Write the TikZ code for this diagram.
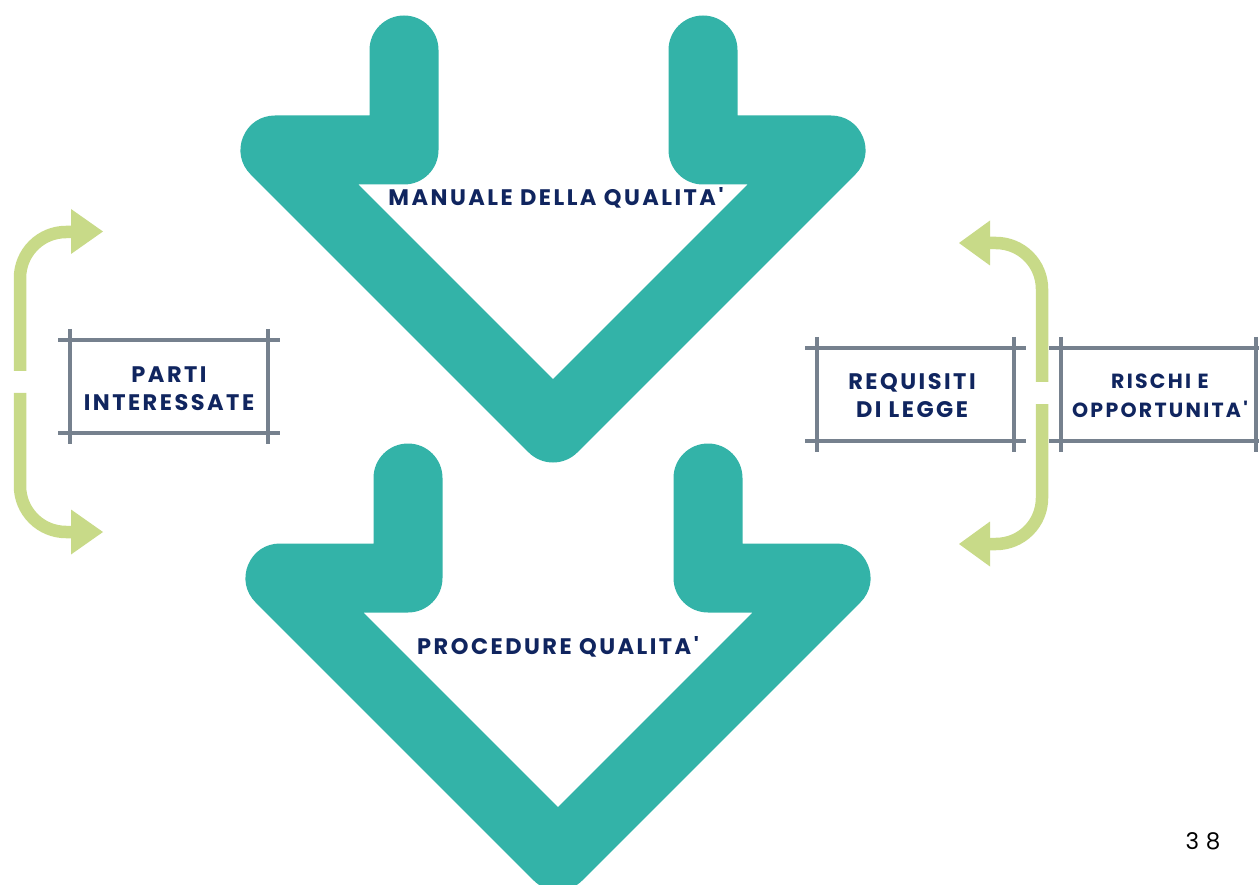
\documentclass[tikz,border=0pt]{standalone}
\usepackage{fontspec}
\newfontfamily\lbl{Poppins}[LetterSpace=11]
\newfontfamily\pgf{Poppins}[LetterSpace=30]
\definecolor{teal1}{HTML}{33B3A8}
\definecolor{green1}{HTML}{C8DA88}
\definecolor{gray1}{HTML}{76818E}
\definecolor{navy1}{HTML}{10255F}
\tikzset{
  chev/.style={draw=teal1, line width=69pt, line cap=round, line join=round},
  garrow/.style={draw=green1, line width=12.5pt, rounded corners=46pt},
  ghead/.style={fill=green1},
  frame/.style={draw=gray1, line width=3.5pt},
  lab/.style={text=navy1, font=\lbl\bfseries\fontsize{22.5}{28}\selectfont, align=center, inner sep=0pt}
}
\begin{document}
\begin{tikzpicture}[x=1pt,y=-1pt]
\useasboundingbox (0,0) rectangle (1259,885);
% top chevron
\coordinate (a1) at (404,50);
\coordinate (a2) at (404,150);
\coordinate (a3) at (275,150);
\coordinate (a4) at (553,428);
\coordinate (a5) at (831,150);
\coordinate (a6) at (703,150);
\coordinate (a7) at (703,50);
\draw[chev] (a1) -- (a2) -- (a3) -- (a4) -- (a5) -- (a6) -- (a7);
% bottom chevron
\coordinate (b1) at (408,478);
\coordinate (b2) at (408,578);
\coordinate (b3) at (280,578);
\coordinate (b4) at (558,856);
\coordinate (b5) at (836,578);
\coordinate (b6) at (708,578);
\coordinate (b7) at (708,478);
\draw[chev] (b1) -- (b2) -- (b3) -- (b4) -- (b5) -- (b6) -- (b7);
% labels in chevrons
\node[lab] (man) at (556,198) {MANUALE DELLA QUALITA'};
\node[lab] (proc) at (558,647) {PROCEDURE QUALITA'};
% left green arrows
\coordinate (l1) at (20,371);
\coordinate (l2) at (20,232);
\coordinate (l3) at (72,232);
\draw[garrow] (l1) -- (l2) -- (l3);
\fill[ghead] (71,209) -- (103,231.5) -- (71,254) -- cycle;
\coordinate (l4) at (20,393);
\coordinate (l5) at (20,532);
\coordinate (l6) at (72,532);
\draw[garrow] (l4) -- (l5) -- (l6);
\fill[ghead] (71,509.5) -- (103,532) -- (71,554.5) -- cycle;
% right green arrows
\coordinate (r1) at (1042,382);
\coordinate (r2) at (1042,243);
\coordinate (r3) at (989,243);
\draw[garrow] (r1) -- (r2) -- (r3);
\fill[ghead] (990,220.5) -- (959,243) -- (990,265.5) -- cycle;
\coordinate (r4) at (1042,404);
\coordinate (r5) at (1042,544);
\coordinate (r6) at (989,544);
\draw[garrow] (r4) -- (r5) -- (r6);
\fill[ghead] (990,521.5) -- (959,544) -- (990,566.5) -- cycle;
% frames
\draw[frame] (58,340) -- (280,340) (58,433) -- (280,433) (70,329) -- (70,444) (268,329) -- (268,444);
\draw[frame] (805,348) -- (1026,348) (805,441) -- (1026,441) (817,337) -- (817,452) (1014,337) -- (1014,452);
\draw[frame] (1049,348) -- (1259,348) (1049,441) -- (1259,441) (1061,337) -- (1061,452) (1256,337) -- (1256,452);
% frame labels
\node[lab] (parti) at (169,389) {PARTI\\INTERESSATE};
\node[lab] (req) at (912,396) {REQUISITI\\DI LEGGE};
\node[lab, font=\lbl\bfseries\fontsize{20.5}{29}\selectfont] (risc) at (1160,396) {RISCHI E\\OPPORTUNITA'};
% page number
\node[font=\pgf\fontsize{23}{26}\selectfont, inner sep=0pt] (pg) at (1203,841) {38};
\end{tikzpicture}
\end{document}
